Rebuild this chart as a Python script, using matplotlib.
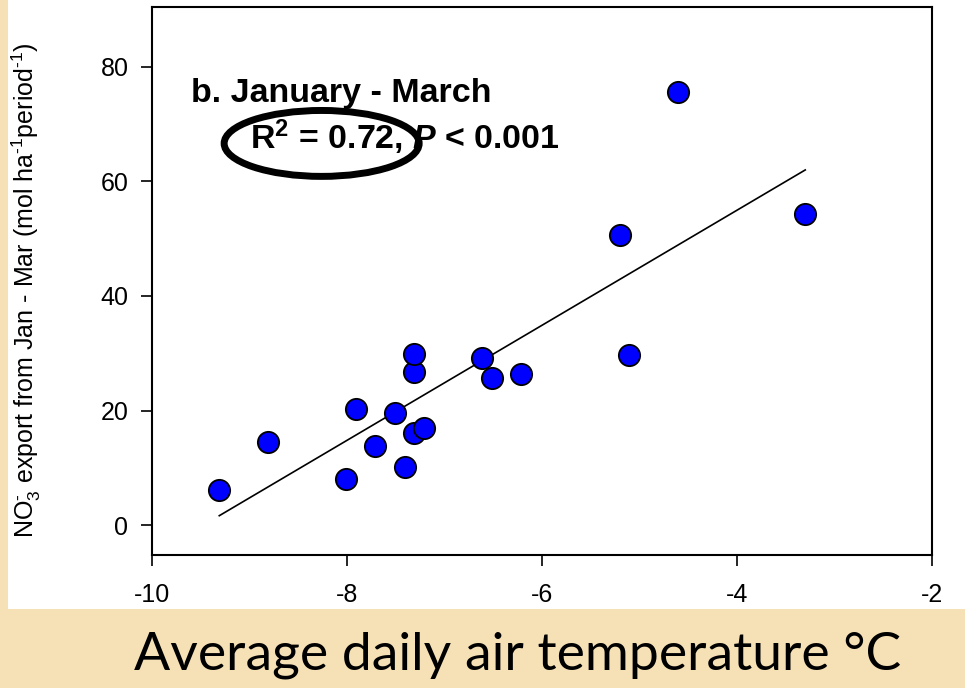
import numpy as np
import matplotlib
matplotlib.use("Agg")
import matplotlib.pyplot as plt
from matplotlib.patches import Ellipse, Rectangle

# data
temp = [-9.31, -8.81, -8.01, -7.91, -7.71, -7.51, -7.41, -7.31, -7.21,
        -7.31, -7.31, -6.62, -6.51, -6.22, -5.20, -5.11, -4.61, -3.30]
no3 = [6.1, 14.6, 8.0, 20.2, 13.9, 19.5, 10.1, 16.0, 16.9,
       26.8, 29.9, 29.2, 25.7, 26.4, 50.6, 29.7, 75.5, 54.3]
x_ticks = [-10, -8, -6, -4, -2]
y_ticks = [0, 20, 40, 60, 80]

plt.rcParams['font.family'] = ['Liberation Sans', 'DejaVu Sans']
plt.rcParams['axes.unicode_minus'] = False
plt.rcParams['mathtext.fontset'] = 'custom'
plt.rcParams['mathtext.rm'] = 'Liberation Sans'
plt.rcParams['mathtext.bf'] = 'Liberation Sans:bold'
plt.rcParams['mathtext.it'] = 'Liberation Sans:italic'
plt.rcParams['mathtext.bfit'] = 'Liberation Sans:bold:italic'

fig = plt.figure(figsize=(9.65, 6.88), dpi=100)
fig.patch.set_facecolor('#F6E1B6')
# white slide panel behind the chart
fig.patches.append(Rectangle((8 / 965, 79 / 688), 957 / 965, 609 / 688,
                             transform=fig.transFigure, facecolor='white',
                             edgecolor='none', zorder=-5))

ax = fig.add_axes([152 / 965, 133 / 688, 780 / 965, 548 / 688])
ax.set_facecolor('white')

# regression line
coef = np.polyfit(temp, no3, 1)
xs = np.array([min(temp), max(temp)])
ax.plot(xs, np.polyval(coef, xs), color='black', lw=1.2, zorder=2)

ax.scatter(temp, no3, s=235, c='#0000FF', edgecolors='black',
           linewidths=1.3, zorder=3)

ax.set_xlim(-10, -2)
ax.set_ylim(-5.2, 90.4)
ax.set_xticks(x_ticks)
ax.set_yticks(y_ticks)
ax.tick_params(direction='out', length=8, width=1.2, labelsize=18)
ax.tick_params(axis='x', pad=12)
ax.tick_params(axis='y', pad=9)
for s in ['left', 'bottom', 'right', 'top']:
    ax.spines[s].set_linewidth(1.5)

ax.text(-9.6, 75.3, 'b. January - March', fontsize=24.5, fontweight='bold',
        va='center', ha='left')
ax.text(-9.0, 67.6, r'R$^\mathbf{2}$ = 0.72, $\mathbfit{P}$ < 0.001',
        fontsize=24.5, fontweight='bold', va='center', ha='left')

ax.add_patch(Ellipse((-8.26, 66.6), 2.0, 11.5, fill=False, lw=5,
                     edgecolor='black', clip_on=False, zorder=4))

fig.text(26 / 965, 1 - 290 / 688,
         r'NO$_3^{\text{-}}$ export from Jan - Mar (mol ha$^{\text{-1}}$period$^{\text{-1}}$)',
         rotation=90, fontsize=18, ha='center', va='center')
fig.text(518 / 965, 1 - 655 / 688, 'Average daily air temperature \u00b0C',
         fontsize=38.5, family='Lato', ha='center', va='center')

fig.savefig('out.png', dpi=100, facecolor=fig.get_facecolor())
